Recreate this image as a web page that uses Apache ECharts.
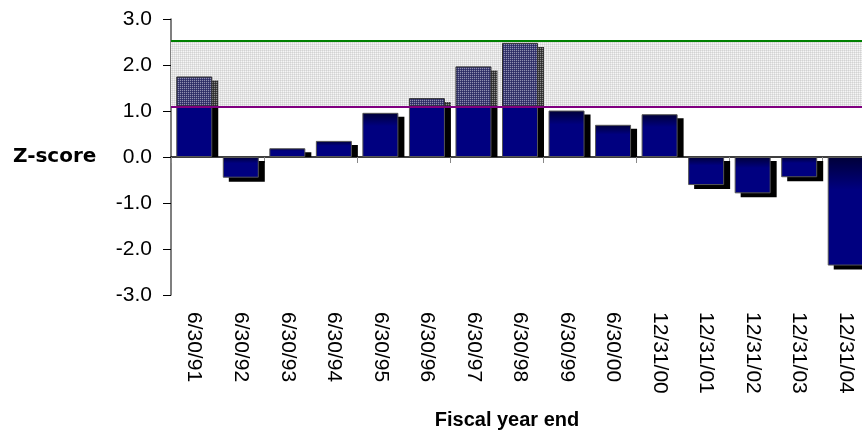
<!DOCTYPE html>
<html>
<head>
<meta charset="utf-8">
<script src="https://cdn.jsdelivr.net/npm/echarts@6/dist/echarts.min.js"></script>
<style>
html, body { margin:0; padding:0; background:#fff; }
#chart { width:862px; height:434px; }
</style>
</head>
<body>
<div id="chart"></div>
<script>
let fiscalDates = ['6/30/91', '6/30/92', '6/30/93', '6/30/94', '6/30/95', '6/30/96', '6/30/97', '6/30/98',
	'6/30/99', '6/30/00', '12/31/00', '12/31/01', '12/31/02', '12/31/03', '12/31/04'];
let zScores = [1.75, -0.45, 0.19, 0.35, 0.96, 1.28, 1.97, 2.48, 1.01, 0.70, 0.93, -0.61, -0.79, -0.44, -2.36];
// grey zone lower / upper bound
let zoneBounds = [1.1, 2.53];
let yRange = [-3, 3];

let barW = 36;
let shadowDX = 6;
let shadowDY = 4;

// 2x2 texture: corner pixel, two edge pixels, cell pixel
function makePattern(corner, edge, cell)
{
	let c = document.createElement('canvas');
	c.width = 2;
	c.height = 2;
	let ctx = c.getContext('2d');
	ctx.fillStyle = corner;
	ctx.fillRect(0, 0, 1, 1);
	ctx.fillStyle = edge;
	ctx.fillRect(1, 0, 1, 1);
	ctx.fillRect(0, 1, 1, 1);
	ctx.fillStyle = cell;
	ctx.fillRect(1, 1, 1, 1);
	return { image: c, repeat: 'repeat' };
}

let bandFill = makePattern('#d2d2d2', '#e2e2e2', '#f5f5f5');
let barZoneFill = makePattern('#9090b0', '#3e3e74', '#2a2a62');
let shadowZoneFill = makePattern('#8c8c8c', '#404040', '#2a2a2a');

let navyGradient = new echarts.graphic.LinearGradient(0, 0, 0, 1, [
	{ offset: 0, color: '#000038' },
	{ offset: 0.3, color: '#000080' },
	{ offset: 1, color: '#000080' }
]);

// split each bar at the lower zone bound
let lowerPart = [];
let upperPart = [];
zScores.forEach(v => {
	if (v > zoneBounds[0])
	{
		lowerPart.push({ value: zoneBounds[0], itemStyle: { color: '#000080' } });
		upperPart.push(v - zoneBounds[0]);
	}
	else
	{
		lowerPart.push({ value: v, itemStyle: { color: navyGradient } });
		upperPart.push(null);
	}
});

// drop shadow drawn as offset rectangles behind the bars
function renderShadow(params, api)
{
	let i = api.value(0);
	let v = api.value(1);
	let base = api.coord([i, 0]);
	let end = api.coord([i, v]);
	let zoneY = api.coord([i, zoneBounds[0]])[1];
	let x = base[0] - barW / 2 + shadowDX;
	let children = [];

	if (v >= 0)
	{
		let top = end[1] + shadowDY;
		if (top < zoneY)
		{
			children.push({ type: 'rect', shape: { x: x, y: top, width: barW, height: zoneY - top }, style: { fill: shadowZoneFill } });
			top = zoneY;
		}
		if (base[1] > top)
		{
			children.push({ type: 'rect', shape: { x: x, y: top, width: barW, height: base[1] - top }, style: { fill: '#000' } });
		}
	}
	else
	{
		children.push({ type: 'rect', shape: { x: x, y: base[1] + shadowDY, width: barW, height: end[1] - base[1] }, style: { fill: '#000' } });
	}
	return { type: 'group', children: children };
}

let myChart = echarts.init(document.getElementById('chart'));

let option = {
	animation: false,
	grid: {
		left: 171,
		right: -7,
		top: 19,
		bottom: 139,
		outerBoundsMode: 'none'
	},
	graphic: [
		{
			type: 'text',
			x: 13,
			y: 157,
			style: {
				text: 'Z-score',
				font: 'bold 20px "DejaVu Sans"',
				fill: '#000',
				verticalAlign: 'middle'
			}
		},
		{
			type: 'text',
			x: 507,
			y: 420,
			style: {
				text: 'Fiscal year end',
				font: 'bold 20px "Liberation Sans"',
				fill: '#000',
				align: 'center',
				verticalAlign: 'middle'
			}
		}
	],
	xAxis: [
		{
			// line + ticks at zero
			type: 'category',
			data: fiscalDates,
			axisLine: { onZero: true, lineStyle: { color: '#000', width: 1.5 } },
			axisTick: { show: true, length: 6, lineStyle: { color: '#888' } },
			axisLabel: { show: false }
		},
		{
			// labels at the bottom
			type: 'category',
			data: fiscalDates,
			position: 'bottom',
			axisLine: { show: false, onZero: false },
			axisTick: { show: false },
			axisLabel: {
				rotate: -90,
				interval: 0,
				margin: 17,
				color: '#000',
				fontSize: 21,
				fontFamily: 'Liberation Sans'
			}
		}
	],
	yAxis: {
		type: 'value',
		min: yRange[0],
		max: yRange[1],
		interval: 1,
		axisLine: { show: true, lineStyle: { color: '#555', width: 1.5 } },
		axisTick: { show: true, length: 8, lineStyle: { color: '#000' } },
		splitLine: { show: false },
		axisLabel: {
			margin: 19,
			color: '#000',
			fontSize: 21,
			fontFamily: 'Liberation Sans',
			formatter: function (v) { return v.toFixed(1); }
		}
	},
	series: [
		{
			type: 'custom',
			name: 'shadow',
			xAxisIndex: 0,
			z: 1.5,
			silent: true,
			renderItem: renderShadow,
			data: zScores.map((v, i) => [i, v])
		},
		{
			type: 'bar',
			name: 'Z-score',
			xAxisIndex: 0,
			stack: 'z',
			data: lowerPart,
			barWidth: barW,
			itemStyle: { borderColor: '#555', borderWidth: 1 },
			markArea: {
				silent: true,
				z: 1,
				itemStyle: { color: bandFill },
				data: [[{ yAxis: zoneBounds[0] }, { yAxis: zoneBounds[1] }]]
			},
			markLine: {
				silent: true,
				symbol: 'none',
				label: { show: false },
				data: [
					{ yAxis: zoneBounds[0], lineStyle: { color: '#800080', width: 2, type: 'solid' } },
					{ yAxis: zoneBounds[1], lineStyle: { color: '#008000', width: 2, type: 'solid' } }
				]
			}
		},
		{
			type: 'bar',
			name: 'Z-score zone',
			xAxisIndex: 0,
			stack: 'z',
			data: upperPart,
			barWidth: barW,
			itemStyle: { color: barZoneFill, borderColor: '#333', borderWidth: 1 }
		}
	]
};

myChart.setOption(option);
</script>
</body>
</html>
